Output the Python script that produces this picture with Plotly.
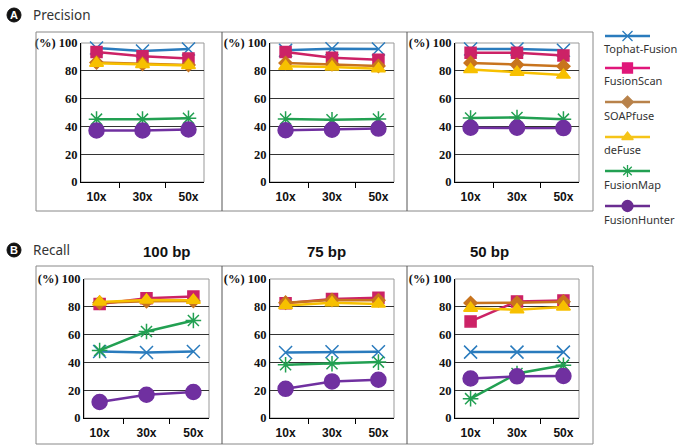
import plotly.graph_objects as go

W, H = 685, 447

# ---------------- data ----------------
coverage = ["10x", "30x", "50x"]
methods = ["Tophat-Fusion", "FusionScan", "SOAPfuse", "deFuse", "FusionMap", "FusionHunter"]
read_lengths = ["100 bp", "75 bp", "50 bp"]
y_ticks = [0, 20, 40, 60, 80, 100]
y_tick_labels = ["0", "20", "40", "60", "80", "(%) 100"]

# values per method in the order of `methods`, columns = coverage
precision_100bp = [
    [96.4, 94.3, 95.7],
    [93.5, 90.4, 88.8],
    [86.0, 85.0, 84.2],
    [85.5, 84.6, 83.8],
    [45.2, 45.2, 45.8],
    [37.1, 37.1, 37.8],
]
precision_75bp = [
    [94.7, 95.9, 95.7],
    [93.5, 89.4, 88.0],
    [85.6, 84.7, 83.5],
    [83.2, 82.7, 81.5],
    [45.3, 44.8, 45.3],
    [37.2, 37.6, 38.4],
]
precision_50bp = [
    [95.7, 95.7, 94.8],
    [92.9, 92.9, 91.0],
    [85.7, 84.3, 83.3],
    [81.0, 79.0, 76.9],
    [46.0, 46.4, 45.2],
    [39.0, 39.0, 38.8],
]
recall_100bp = [
    [47.8, 47.1, 47.8],
    [82.0, 86.1, 87.4],
    [83.0, 84.0, 84.2],
    [83.5, 84.9, 84.7],
    [48.6, 62.2, 70.1],
    [11.5, 16.7, 18.7],
]
recall_75bp = [
    [47.1, 47.6, 47.6],
    [82.5, 85.6, 86.6],
    [83.0, 84.9, 84.7],
    [80.9, 83.0, 82.0],
    [38.3, 39.0, 40.2],
    [21.0, 26.3, 27.5],
]
recall_50bp = [
    [47.4, 47.4, 47.4],
    [69.5, 83.9, 84.6],
    [82.7, 82.9, 83.7],
    [79.0, 77.9, 79.8],
    [13.9, 32.0, 38.0],
    [28.4, 30.0, 30.2],
]

# ---------------- styles ----------------
colors = ["#2a7bbd", "#cc2266", "#c8741e", "#f7c000", "#22a052", "#7030a0"]
legend_colors = ["#2a7bbd", "#e0177a", "#b8824a", "#f5c418", "#22a052", "#6a2c91"]
symbols = ["x-thin-open", "square", "diamond", "triangle-up", "asterisk-open", "circle"]
sizes = [13, 11, 10, 12, 13, 15]

panels = [precision_100bp, precision_75bp, precision_50bp,
          recall_100bp, recall_75bp, recall_50bp]

# plot-area pixel boxes (left, right, top, bottom)
boxes = [
    (81, 204, 43, 182), (270, 394, 43, 182), (455, 579, 43, 182),
    (84, 209, 279, 418), (270, 394, 279, 418), (455, 579, 279, 418),
]

def px_x(p):
    return p / W

def px_y(p):
    return 1 - p / H

SERIF = "Liberation Serif, Times New Roman, DejaVu Serif, serif"

fig = go.Figure()
layout = {}
shapes = []
annotations = []

for i, (data, box) in enumerate(zip(panels, boxes)):
    n = i + 1
    xa = "x" if n == 1 else f"x{n}"
    ya = "y" if n == 1 else f"y{n}"
    l, r, t, b = box
    layout["xaxis" if n == 1 else f"xaxis{n}"] = dict(
        domain=[px_x(l), px_x(r)], anchor=ya, type="category",
        categoryorder="array", categoryarray=coverage,
        showgrid=False, showline=True, linecolor="#000", linewidth=1,
        ticks="outside", tickson="boundaries", ticklen=5, tickcolor="#000",
        ticklabelstandoff=4,
        tickfont=dict(family="Liberation Sans", size=12, color="#111", weight="bold"),
        zeroline=False, fixedrange=True, automargin=False,
    )
    layout["yaxis" if n == 1 else f"yaxis{n}"] = dict(
        domain=[px_y(b), px_y(t)], anchor=xa, range=[0, 100],
        tickvals=y_ticks, ticktext=y_tick_labels,
        showgrid=True, gridcolor="#333", gridwidth=1,
        showline=True, linecolor="#000", linewidth=1,
        ticks="",
        tickfont=dict(family=SERIF, size=12.5, color="#111", weight="bold"),
        zeroline=False, fixedrange=True, automargin=False,
    )
    # gray frame of plot area (top & right)
    shapes.append(dict(type="rect", xref="paper", yref="paper",
                       x0=px_x(l), x1=px_x(r), y0=px_y(b), y1=px_y(t),
                       line=dict(color="#999", width=1), layer="below"))
    for m, vals in enumerate(data):
        fig.add_trace(go.Scatter(
            x=coverage, y=vals, xaxis=xa, yaxis=ya, mode="lines+markers",
            line=dict(color=colors[m], width=2.5),
            marker=dict(symbol=symbols[m], size=sizes[m], color=colors[m],
                        line=dict(color=colors[m], width=1.5)),
            showlegend=False, hoverinfo="skip", cliponaxis=False,
        ))

# bp titles above recall panels
for name, box in zip(read_lengths, boxes[3:]):
    l, r, t, b = box
    annotations.append(dict(text=name, xref="paper", yref="paper",
                            x=px_x((l + r) / 2 - 6), y=px_y(252), showarrow=False,
                            font=dict(family="Liberation Sans", size=15, color="#111",
                                      weight="bold")))

# outer boxes with separators
for top, bot in [(32, 211), (266, 444)]:
    shapes.append(dict(type="rect", xref="paper", yref="paper",
                       x0=px_x(36), x1=px_x(593), y0=px_y(bot), y1=px_y(top),
                       line=dict(color="#888", width=1)))
    for sx in (222, 407):
        shapes.append(dict(type="line", xref="paper", yref="paper",
                           x0=px_x(sx), x1=px_x(sx), y0=px_y(bot), y1=px_y(top),
                           line=dict(color="#555", width=1)))

# section labels
for letter, title, cy in [("A", "Precision", 15), ("B", "Recall", 250)]:
    shapes.append(dict(type="circle", xref="paper", yref="paper",
                       x0=px_x(7), x1=px_x(21), y0=px_y(cy + 7), y1=px_y(cy - 7),
                       fillcolor="#111", line=dict(color="#111", width=1), layer="below"))
    annotations.append(dict(text=letter, xref="paper", yref="paper",
                            x=px_x(14), y=px_y(cy), xanchor="center", yanchor="middle",
                            showarrow=False,
                            font=dict(family="Liberation Sans", size=11, color="white",
                                      weight="bold")))
    annotations.append(dict(text=title, xref="paper", yref="paper",
                            x=px_x(31), y=px_y(cy), xanchor="left", yanchor="middle",
                            showarrow=False,
                            font=dict(family="Noto Sans", size=13.5, color="#333")))

# custom legend: line sample above label (markers on a small hidden axis)
legend_line_y = [36, 68, 102, 137, 171, 206]
layout["xaxis7"] = dict(domain=[px_x(600), px_x(655)], range=[0, 1], visible=False,
                        anchor="y7", fixedrange=True)
layout["yaxis7"] = dict(domain=[px_y(230), px_y(25)], range=[230, 25], visible=False,
                        anchor="x7", fixedrange=True)
leg_sizes = [10, 10, 9, 10, 10, 11]
for m, name in enumerate(methods):
    yy = legend_line_y[m]
    shapes.append(dict(type="line", xref="paper", yref="paper",
                       x0=px_x(605), x1=px_x(650), y0=px_y(yy), y1=px_y(yy),
                       line=dict(color=legend_colors[m], width=2.5)))
    fig.add_trace(go.Scatter(
        x=[0.5], y=[yy], xaxis="x7", yaxis="y7", mode="markers",
        marker=dict(symbol=symbols[m], size=leg_sizes[m], color=legend_colors[m],
                    line=dict(color=legend_colors[m], width=1.3)),
        showlegend=False, hoverinfo="skip", cliponaxis=False))
    annotations.append(dict(text=name, xref="paper", yref="paper",
                            x=px_x(602), y=px_y(yy + 13), xanchor="left", yanchor="middle",
                            showarrow=False,
                            font=dict(family="Noto Sans", size=11, color="#333")))

fig.update_layout(
    width=W, height=H, margin=dict(l=0, r=0, t=0, b=0, pad=0, autoexpand=False),
    paper_bgcolor="white", plot_bgcolor="white",
    shapes=shapes, annotations=annotations, showlegend=False,
    **layout,
)

fig.write_html("out.html", config={"displayModeBar": False, "staticPlot": True},
               post_script="document.body.style.margin='0';")
